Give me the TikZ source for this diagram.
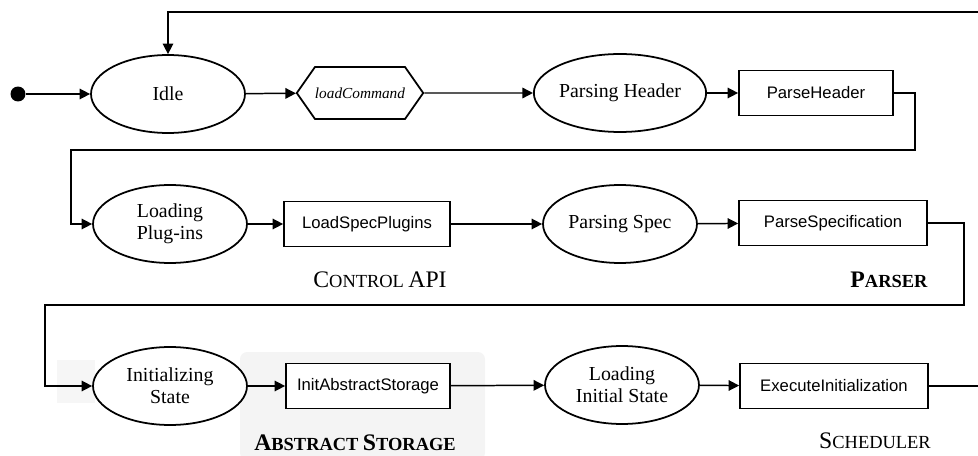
\documentclass[tikz,border=0pt]{standalone}
\usepackage{fontspec}
\setmainfont{Liberation Serif}
\setsansfont{Liberation Sans}
\usetikzlibrary{shapes.geometric,shapes.symbols,arrows.meta}
\newcommand{\lblbig}{\fontsize{13.5}{15}\selectfont}
\newcommand{\lblsmall}{\fontsize{10.5}{12}\selectfont}
\begin{document}
\begin{tikzpicture}[x=0.02cm,y=-0.02cm]

    \tikzset{
      state/.style={
        draw,
        line width=1pt,
        ellipse,
        fill=white,
        inner sep=0pt,
        minimum width=3.08cm,
        minimum height=1.56cm,
        align=center,
        font=\fontsize{11.3}{12.5}\selectfont,
      },
      action/.style={
        draw,
        line width=1pt,
        fill=white,
        inner sep=0pt,
        minimum height=0.9cm,
        minimum width=#1,
        font=\sffamily\fontsize{9.5}{11}\selectfont,
      },
      event/.style={
        draw,
        line width=1pt,
        signal,
        signal to=east and west,
        signal pointer angle=110,
        fill=white,
        inner sep=0pt,
        minimum width=2.52cm,
        minimum height=1.04cm,
        font=\itshape\fontsize{8.7}{10}\selectfont,
      },
      flow/.style={
        line width=0.85pt,
        -{Triangle[length=6pt,width=6pt]},
      },
    }
    \useasboundingbox (0,0) rectangle (978,456);
    \clip (0,0) rectangle (978,456);
	\fill[gray!9,rounded corners=4pt] (240,352) rectangle (485,460);
	\fill[gray!7] (57,360) rectangle (95,403);

	\node[circle,fill=black,inner sep=0pt,minimum size=0.3cm] (start) at (18,94) {};
	\node[state] (idle) at (168,94) {Idle};
	\node[event] (loadcmd) at (360,93) {loadCommand};
	\node[state] (parsinghdr) at (620,93) {Parsing Header};
	\node[action=3.08cm] (parsehdr) at (816,93) {ParseHeader};

	\node[state] (loadplug) at (170,224) {Loading\\Plug-ins};
	\node[action=3.32cm] (loadspec) at (367,224) {LoadSpecPlugins};
	\node[state] (parsingspec) at (620,224) {Parsing Spec};
	\node[action=3.76cm] (parsespec) at (833,223) {ParseSpecification};

	\node[state] (initstate) at (170,386) {Initializing\\State};
	\node[action=3.28cm] (initstore) at (368,386) {InitAbstractStorage};
	\node[state] (loadinit) at (622,385) {Loading\\Initial State};
	\node[action=3.76cm] (execinit) at (834,386) {ExecuteInitialization};

	\node (ctrlapi) at (380,280) {{\lblbig C}{\lblsmall ONTROL} {\lblbig API}};
	\node (parser) at (889,280) {\bfseries{\lblbig P}{\lblsmall ARSER}};
	\node (abstore) at (355,443) {\bfseries{\lblbig A}{\lblsmall BSTRACT} {\lblbig S}{\lblsmall TORAGE}};
	\node (sched) at (875,441) {{\lblbig S}{\lblsmall CHEDULER}};

	\draw[flow] (start) -- (idle);
	\draw[flow] (idle) -- (loadcmd);
	\draw[flow] (loadcmd) -- (parsinghdr);
	\draw[flow] (parsinghdr) -- (parsehdr);
	\draw[flow] (parsehdr.east) -| ++(21,57) -| ([xshift=-0.42cm]loadplug.west) -- (loadplug.west);
	\draw[flow] (loadplug) -- (loadspec);
	\draw[flow] (loadspec) -- (parsingspec);
	\draw[flow] (parsingspec) -- (parsespec);
	\draw[flow] (parsespec.east) -| ++(36,82) -| ([xshift=-0.94cm]initstate.west) -- (initstate.west);
	\draw[flow] (initstate) -- (initstore);
	\draw[flow] (initstore) -- (loadinit);
	\draw[flow] (loadinit) -- (execinit);
	\draw[flow] (execinit.east) -| ++(62,-374) -| (idle.north);

\end{tikzpicture}
\end{document}
